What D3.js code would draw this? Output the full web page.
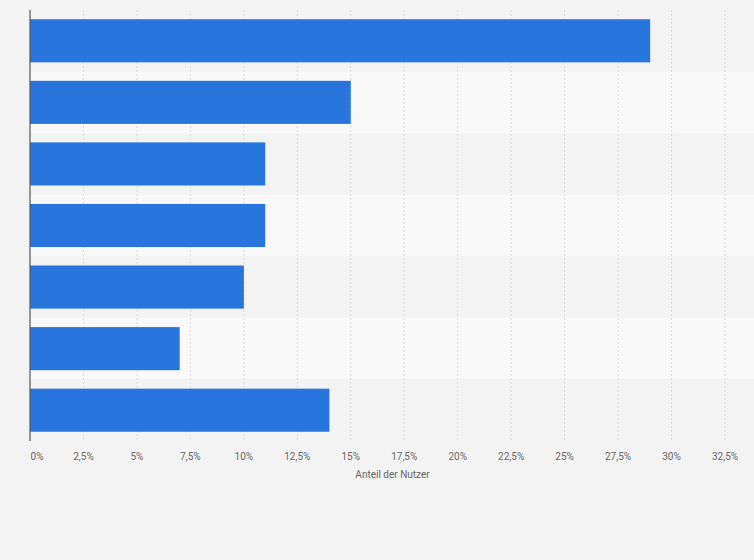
<!DOCTYPE html>
<html><head><meta charset="utf-8">
<script src="https://cdn.jsdelivr.net/npm/d3@7"></script>
<style>body{margin:0;background:#f3f3f3}</style></head>
<body><svg id="c" width="754" height="560"></svg>
<script>
const categories = ["Kategorie 1","Kategorie 2","Kategorie 3","Kategorie 4","Kategorie 5","Kategorie 6","Kategorie 7"];
const values = [29, 15, 11, 11, 10, 7, 14];
const ticks = [0,2.5,5,7.5,10,12.5,15,17.5,20,22.5,25,27.5,30,32.5];
const axisTitle = "Anteil der Nutzer";

const svg = d3.select("#c");
const m = {l:30, r:29, t:10, b:119};
const W = 754, H = 560;
const x = d3.scaleLinear().domain([0,32.5]).range([m.l, W-m.r]);
const y = d3.scaleBand().domain(categories).range([m.t, H-m.b]).paddingInner(0.3).paddingOuter(0.15);
const band = d3.scaleBand().domain(categories).range([m.t, H-m.b]);

svg.append("rect").attr("width",W).attr("height",H).attr("fill","#f3f3f3");
svg.selectAll(".bg").data(categories).join("rect")
  .attr("x", m.l).attr("width", W - m.l)
  .attr("y", d=>band(d)).attr("height", band.bandwidth())
  .attr("fill",(d,i)=> i%2 ? "#f8f8f8" : "#f3f3f3");

svg.selectAll(".g").data(ticks.slice(1)).join("line")
  .attr("x1",d=>x(d)).attr("x2",d=>x(d)).attr("y1",m.t).attr("y2",H-m.b)
  .attr("stroke","#dcdcdc").attr("stroke-dasharray","2,2");

svg.selectAll(".bar").data(values).join("rect")
  .attr("x", x(0)).attr("y",(d,i)=>y(categories[i]))
  .attr("width", d=>x(d)-x(0)).attr("height", y.bandwidth())
  .attr("fill","#2876dd");

svg.append("line").attr("x1",m.l).attr("x2",m.l).attr("y1",m.t).attr("y2",H-m.b)
  .attr("stroke","#555").attr("stroke-width",1.2);

const fmt = d => String(d).replace(".",",") + "%";
svg.selectAll(".tl").data(ticks).join("text")
  .attr("x",(d,i)=> i===0 ? x(d)+7 : x(d)).attr("y",460)
  .attr("text-anchor","middle").attr("font-family","Roboto, sans-serif")
  .attr("font-size",10).attr("fill","#666").text(fmt);

svg.append("text").attr("x",(x(0)+x(32.5))/2+15).attr("y",478).attr("text-anchor","middle")
  .attr("font-family","Roboto, sans-serif").attr("font-size",10).attr("fill","#666").text(axisTitle);
</script></body></html>
